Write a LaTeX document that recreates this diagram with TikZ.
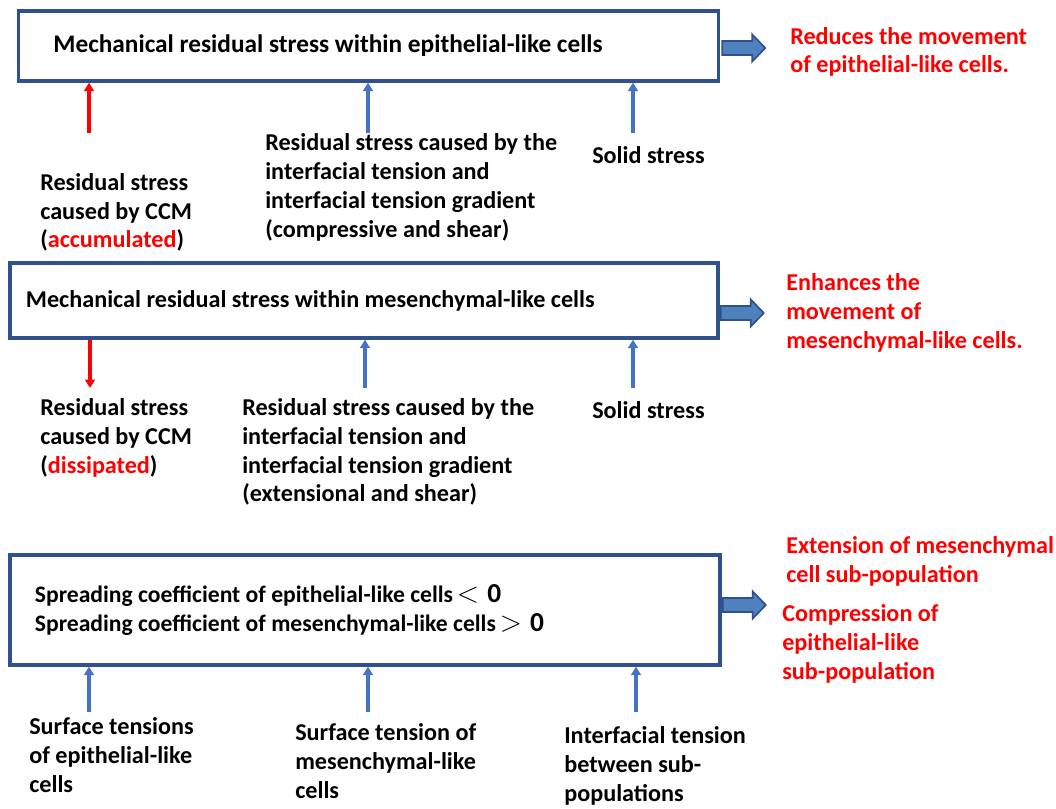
\documentclass[tikz,border=0pt]{standalone}
\usepackage{fontspec}
\setmainfont{Carlito}
\usetikzlibrary{arrows.meta}

\definecolor{boxblau}{RGB}{47,82,143}
\definecolor{pfeilblau}{RGB}{68,114,196}
\definecolor{blockblau}{RGB}{79,129,189}
\newcommand\schrift{\fontsize{17.2}{20.5}\selectfont\bfseries}
\newcommand\schriftA{\fontsize{18}{20.5}\selectfont\bfseries}
\newcommand\schriftC{\fontsize{16.8}{20.5}\selectfont\bfseries}
\newcommand\engabstand{\spaceskip=0pt\relax\xspaceskip=0pt\relax}
\newcommand\vgl[1]{{\fontsize{19.5}{20.5}\selectfont$#1\mathbf{0}$}}

\tikzset{
  box/.style={draw=boxblau, line width=2.4pt, align=left, inner ysep=0pt,
    execute at begin node=\engabstand},
  lbl/.style={inner sep=0pt, anchor=west, align=left},
  rottext/.style={lbl, text=red},
  blaupfeil/.style={draw=pfeilblau, line width=2.2pt, -{Triangle[width=7pt,length=6pt]}},
  rotpfeil/.style={blaupfeil, draw=red},
  blockpfeil/.style={fill=blockblau, draw=boxblau, line width=1.2pt, line join=miter}
}

\begin{document}
\begin{tikzpicture}[x=0.025cm, y=-0.025cm, font=\schrift]
\useasboundingbox (0,0) rectangle (1056,808);

% oberste Box:
\node[box, font=\schriftA, text width=15.75cm, inner xsep=0.875cm, minimum height=1.75cm] (box1) at (368.5,46)
  {Mechanical residual stress within epithelial-like cells};
\draw[blockpfeil] (box1.east) ++(2,-5) -- ++(30,0) -- ++(0,-6.5) -- ++(13,13.5) -- ++(-13,13.5) -- ++(0,-6.5) -- ++(-30,0) -- cycle;
\node[rottext] (folge1) at (790,52) {Reduces the movement\\of epithelial-like cells.};

\coordinate (a1) at (89,133);
\coordinate (a2) at (368,133);
\coordinate (a3) at (633,133);
\draw[rotpfeil] (a1) -- (a1 |- box1.south);
\draw[blaupfeil] (a2) -- (a2 |- box1.south);
\draw[blaupfeil] (a3) -- (a3 |- box1.south);

\node[lbl] (ccm1) at (40,212.5) {Residual stress\\caused by CCM\\(\textcolor{red}{accumulated})};
\node[lbl] (grenz1) at (265,187.5) {Residual stress caused by the\\interfacial tension and\\interfacial tension gradient\\(compressive and shear)};
\node[lbl] (fest1) at (592,155) {Solid stress};

% mittlere Box:
\node[box, text width=16.9cm, inner xsep=0.4cm, minimum height=1.875cm] (box2) at (364,300.5)
  {Mechanical residual stress within mesenchymal-like cells};
\draw[blockpfeil] (box2.east) ++(1,5.5) -- ++(30,0) -- ++(0,-6.5) -- ++(13,13.5) -- ++(-13,13.5) -- ++(0,-6.5) -- ++(-30,0) -- cycle;
\node[rottext] (folge2) at (786,313) {Enhances the\\movement of\\mesenchymal-like cells.};

\coordinate (a4) at (90,388);
\coordinate (a5) at (365,388);
\coordinate (a6) at (633,388);
\draw[rotpfeil] (a4 |- box2.south) -- (a4);
\draw[blaupfeil] (a5) -- (a5 |- box2.south);
\draw[blaupfeil] (a6) -- (a6 |- box2.south);

\node[lbl] (ccm2) at (40,438) {Residual stress\\caused by CCM\\(\textcolor{red}{dissipated})};
\node[lbl] (grenz2) at (242,452) {Residual stress caused by the\\interfacial tension and\\interfacial tension gradient\\(extensional and shear)};
\node[lbl] (fest2) at (592,410) {Solid stress};

% unterste Box:
\node[box, font=\schriftC, text width=16.5cm, inner xsep=0.625cm, minimum height=2.75cm] (box3) at (365,610)
  {Spreading coefficient of epithelial-like cells\,\vgl{<}\\Spreading coefficient of mesenchymal-like cells\,\vgl{>}};
\draw[blockpfeil] (box3.east) ++(1,-12) -- ++(30,0) -- ++(0,-6.5) -- ++(13,13.5) -- ++(-13,13.5) -- ++(0,-6.5) -- ++(-30,0) -- cycle;
\node[rottext] (folge3) at (786,561) {Extension of mesenchymal\\cell sub-population};
\node[rottext] (folge4) at (782,644) {Compression of\\epithelial-like\\sub-population};

\coordinate (a7) at (89,712);
\coordinate (a8) at (368,712);
\coordinate (a9) at (636,712);
\draw[blaupfeil] (a7) -- (a7 |- box3.south);
\draw[blaupfeil] (a8) -- (a8 |- box3.south);
\draw[blaupfeil] (a9) -- (a9 |- box3.south);

\node[lbl] (ober1) at (29,755) {Surface tensions\\of epithelial-like\\cells};
\node[lbl] (ober2) at (295,761) {Surface tension of\\mesenchymal-like\\cells};
\node[lbl] (zwischen) at (564,766) {Interfacial tension\\between sub-\\populations};
\end{tikzpicture}
\end{document}
